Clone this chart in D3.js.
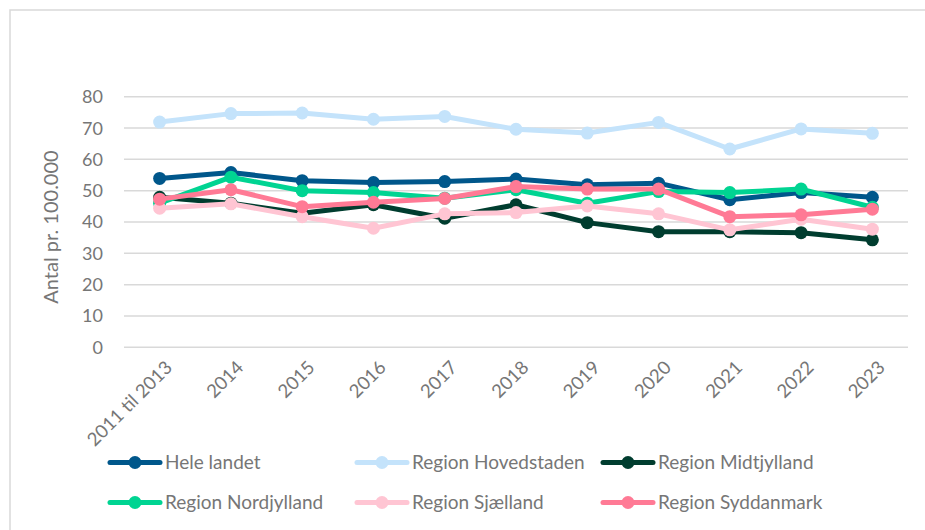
<!DOCTYPE html>
<html><head><meta charset="utf-8">
<script src="https://cdn.jsdelivr.net/npm/d3@7"></script>
<style>body{margin:0;background:#fff;}svg{display:block;font-family:Lato, "Open Sans", sans-serif;}</style>
</head><body>
<svg id="c" width="925" height="530"></svg>
<script>
const categories = ["2011 til 2013","2014","2015","2016","2017","2018","2019","2020","2021","2022","2023"];
const yTicks = [0,10,20,30,40,50,60,70,80];
const seriesNames = ["Hele landet","Region Hovedstaden","Region Midtjylland","Region Nordjylland","Region Sjælland","Region Syddanmark"];
const heleLandet   = [53.9,55.8,53.2,52.6,52.9,53.7,51.9,52.4,47.1,49.4,47.9];
const hovedstaden  = [71.9,74.6,74.8,72.8,73.7,69.6,68.4,71.8,63.3,69.7,68.3];
const midtjylland  = [47.9,46.0,42.8,45.5,41.2,45.5,39.8,36.9,36.9,36.6,34.3];
const nordjylland  = [46.0,54.3,50.0,49.4,47.6,50.3,46.0,49.7,49.4,50.5,44.7];
const sjaelland    = [44.4,45.8,41.7,38.0,42.6,43.0,45.1,42.6,37.5,40.9,37.7];
const syddanmark   = [47.3,50.3,44.9,46.3,47.5,51.3,50.5,50.5,41.7,42.3,44.1];
const colors = ["#00578b","#c4e3fb","#003d2f","#00d492","#ffc5d3","#ff7a95"];

const series = [heleLandet,hovedstaden,midtjylland,nordjylland,sjaelland,syddanmark]
  .map((v,i)=>({name:seriesNames[i],values:v,color:colors[i]}));

const textColor = "#767676";
const svg = d3.select("#c");
// outer border
svg.append("rect").attr("x",10).attr("y",10).attr("width",930).attr("height",540)
  .attr("fill","none").attr("stroke","#d9d9d9").attr("stroke-width",1.5);

const pL=124,pR=908,pT=96.7,pB=347.3;
const x = d3.scalePoint().domain(categories).range([pL,pR]).padding(0.5);
const y = d3.scaleLinear().domain([0,80]).range([pB,pT]);

// grid
svg.append("g").selectAll("line").data(yTicks).join("line")
  .attr("x1",pL).attr("x2",pR).attr("y1",d=>y(d)).attr("y2",d=>y(d))
  .attr("stroke","#d9d9d9").attr("stroke-width",1.5);

// y labels
svg.append("g").selectAll("text").data(yTicks).join("text")
  .attr("x",103).attr("y",d=>y(d)).attr("dy","0.36em").attr("text-anchor","end")
  .attr("fill",textColor).attr("font-size",18).text(d=>d);

// y title
svg.append("text").attr("transform","translate(51,227) rotate(-90)")
  .attr("dy","0.36em")
  .attr("text-anchor","middle").attr("fill",textColor).attr("font-size",20)
  .text("Antal pr. 100.000");

// x labels
svg.append("g").selectAll("text").data(categories).join("text")
  .attr("transform",d=>`translate(${x(d)+9},364) rotate(-45)`)
  .attr("text-anchor","end").attr("dy","0.36em")
  .attr("fill",textColor).attr("font-size",18.5).text(d=>d);

// lines
const line = d3.line().x((d,i)=>x(categories[i])).y(d=>y(d));
const g = svg.append("g");
series.forEach(s=>{
  const gs = g.append("g");
  gs.append("path").attr("d",line(s.values)).attr("fill","none")
    .attr("stroke",s.color).attr("stroke-width",5).attr("stroke-linejoin","round").attr("stroke-linecap","round");
  gs.selectAll("circle").data(s.values).join("circle")
    .attr("cx",(d,i)=>x(categories[i])).attr("cy",d=>y(d)).attr("r",6.5).attr("fill",s.color);
});

// legend
const legX=[110,357,603], legY=[462.5,502.5];
series.forEach((s,i)=>{
  const lx=legX[i%3], ly=legY[Math.floor(i/3)];
  const lg=svg.append("g");
  lg.append("line").attr("x1",lx).attr("x2",lx+50).attr("y1",ly).attr("y2",ly)
    .attr("stroke",s.color).attr("stroke-width",5).attr("stroke-linecap","round");
  lg.append("circle").attr("cx",lx+25).attr("cy",ly).attr("r",6.5).attr("fill",s.color);
  lg.append("text").attr("x",lx+55).attr("y",ly).attr("dy","0.36em")
    .attr("fill",textColor).attr("font-size",19).text(s.name);
});
</script>
</body></html>
